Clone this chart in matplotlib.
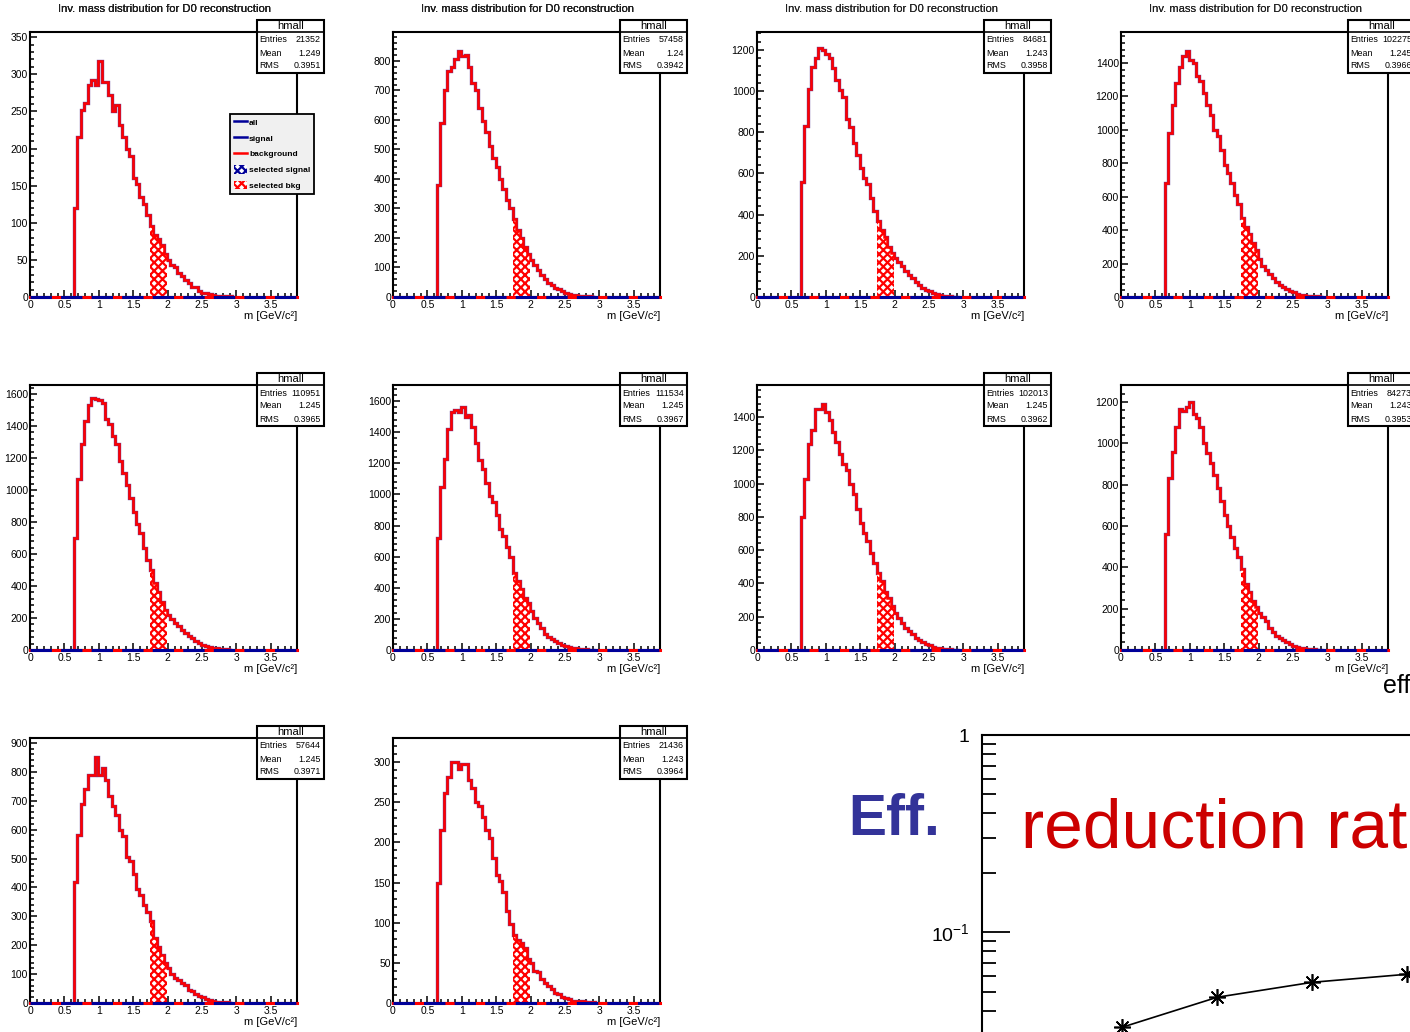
import numpy as np
import matplotlib
matplotlib.use("Agg")
import matplotlib.pyplot as plt
from matplotlib.ticker import MultipleLocator, AutoMinorLocator, FuncFormatter, LogLocator, NullFormatter, NullLocator
from matplotlib.patches import Rectangle, Patch
from matplotlib.lines import Line2D

plt.rcParams['font.family'] = ['Liberation Sans', 'DejaVu Sans']
plt.rcParams['mathtext.fontset'] = 'custom'
plt.rcParams['mathtext.rm'] = 'Liberation Sans'
plt.rcParams['mathtext.it'] = 'Liberation Sans:italic'
plt.rcParams['mathtext.bf'] = 'Liberation Sans:bold'
plt.rcParams['hatch.linewidth'] = 1.6

# ---------------- data ----------------
title = "Inv. mass distribution for D0 reconstruction"
hist_name = "hmall"
bin_lo = 0.64          # lower edge of first filled bin [GeV/c^2]
bin_w = 0.05           # bin width
sel_lo, sel_hi = 1.74, 1.99   # selected mass window

entries = [21352, 57458, 84681, 102275, 110951, 111534, 102013, 84273, 57644, 21436]
means = [1.249, 1.24, 1.243, 1.245, 1.245, 1.245, 1.245, 1.243, 1.245, 1.243]
rms = [0.3951, 0.3942, 0.3958, 0.3966, 0.3965, 0.3967, 0.3962, 0.3953, 0.3971, 0.3964]
y_top = [357, 898, 1287, 1585, 1656, 1703, 1592, 1282, 917, 330]
y_major = [50, 100, 200, 200, 200, 200, 200, 200, 100, 50]

bkg_p1 = [120, 215, 252, 262, 285, 292, 285, 318, 290, 290, 272, 250, 258, 232, 215, 200, 190, 160, 152, 135,
          125, 110, 96, 84, 78, 70, 58, 50, 43, 41, 33, 28, 23, 19, 14, 13, 8, 6, 5, 4, 3, 2, 2, 1, 1, 1]
bkg_p2 = [380, 590, 700, 765, 780, 805, 835, 815, 820, 780, 725, 700, 640, 595, 560, 510, 470, 440, 400, 365,
          330, 300, 266, 228, 200, 168, 145, 125, 108, 90, 74, 62, 48, 40, 32, 26, 20, 15, 11, 8, 6, 4, 3, 2, 2, 1]
bkg_p3 = [560, 830, 1010, 1115, 1160, 1210, 1200, 1180, 1160, 1110, 1055, 1005, 970, 865, 825, 750, 690, 625, 580, 550,
          480, 420, 370, 325, 290, 245, 215, 190, 172, 150, 128, 107, 90, 72, 58, 46, 36, 28, 20, 14, 10, 7, 5, 3, 2, 2]
bkg_p4 = [680, 980, 1150, 1280, 1375, 1440, 1470, 1420, 1400, 1320, 1290, 1220, 1150, 1090, 1000, 960, 880, 790, 740, 680,
          610, 555, 470, 420, 375, 320, 280, 225, 185, 160, 135, 115, 92, 72, 58, 46, 36, 27, 20, 14, 10, 8, 6, 4, 3, 2]
bkg_p5 = [700, 1070, 1290, 1430, 1530, 1575, 1570, 1565, 1545, 1445, 1415, 1340, 1290, 1180, 1105, 1030, 950, 860, 790, 730,
          640, 565, 500, 420, 360, 297, 252, 220, 192, 170, 150, 127, 108, 88, 74, 58, 45, 33, 24, 18, 14, 10, 7, 5, 4, 3]
bkg_p6 = [720, 1050, 1230, 1420, 1530, 1540, 1530, 1560, 1500, 1510, 1430, 1330, 1220, 1160, 1070, 990, 950, 870, 780, 730,
          660, 600, 495, 445, 390, 336, 300, 250, 205, 175, 140, 105, 82, 68, 55, 45, 32, 25, 18, 14, 10, 7, 5, 4, 3, 2]
bkg_p7 = [800, 1030, 1240, 1320, 1450, 1445, 1480, 1430, 1380, 1310, 1250, 1180, 1115, 1080, 1000, 935, 850, 765, 705, 655,
          585, 520, 462, 412, 350, 312, 265, 222, 192, 165, 135, 112, 95, 75, 60, 48, 36, 28, 20, 14, 10, 7, 5, 4, 3, 2]
bkg_p8 = [560, 830, 960, 1080, 1165, 1155, 1175, 1200, 1140, 1120, 1080, 1000, 955, 905, 845, 785, 720, 653, 600, 545,
          495, 450, 390, 320, 280, 235, 210, 180, 160, 138, 108, 88, 70, 60, 48, 38, 28, 20, 15, 11, 8, 6, 4, 3, 2, 1]
bkg_p9 = [420, 580, 688, 740, 790, 790, 850, 790, 812, 770, 715, 680, 650, 600, 578, 505, 490, 446, 395, 372,
          338, 315, 285, 225, 195, 165, 140, 120, 99, 88, 78, 70, 62, 46, 40, 32, 24, 20, 14, 10, 7, 5, 4, 3, 2, 1]
bkg_p10 = [150, 215, 261, 282, 300, 300, 292, 298, 298, 278, 268, 250, 245, 232, 215, 205, 180, 160, 152, 138,
           115, 98, 85, 78, 75, 68, 55, 50, 40, 38, 30, 25, 21, 17, 13, 11, 8, 6, 5, 3, 3, 2, 2, 1, 1, 1]
panels = [bkg_p1, bkg_p2, bkg_p3, bkg_p4, bkg_p5, bkg_p6, bkg_p7, bkg_p8, bkg_p9, bkg_p10]

eff_x = [1, 2, 3, 4]
eff_y = [0.0330, 0.0468, 0.0557, 0.0612]

# ---------------- layout ----------------
W, H = 1410, 1032
fig = plt.figure(figsize=(W / 100, H / 100), dpi=100)
fig.patch.set_facecolor('white')


def fx(x):
    return x / W


def fy(y):
    return 1 - y / H


RED = '#ff0000'
NAVY = '#000099'
col_left = [30, 393, 757, 1121]
row_top = [32, 385, 738]
ax_w, ax_h = 267, 265
fmt_g = FuncFormatter(lambda v, p: f"{v:g}")

for i, vals in enumerate(panels):
    r, c = divmod(i, 4)
    L, T = col_left[c], row_top[r]
    ax = fig.add_axes([fx(L), fy(T + ax_h), ax_w / W, ax_h / H])
    vals = np.asarray(vals, dtype=float)
    edges = bin_lo + bin_w * np.arange(len(vals) + 1)

    ax.axhline(0, color=RED, lw=2.2, zorder=4, clip_on=False)
    ax.stairs(vals, edges, baseline=0, color='#5a3c9a', lw=2.4, zorder=3)
    ax.stairs(vals, edges, baseline=0, color=RED, lw=1.8, zorder=3.2)
    sel = (edges[:-1] >= sel_lo - 1e-9) & (edges[1:] <= sel_hi + 1e-9)
    idx = np.where(sel)[0]
    ax.stairs(vals[idx], edges[idx[0]:idx[-1] + 2], baseline=0, fill=True,
              facecolor='white', edgecolor=RED, hatch='xxxx', lw=0, zorder=3.1)
    ax.axhline(0, color=NAVY, lw=2.2, zorder=4.1, clip_on=False, dashes=(7, 3))

    ax.set_xlim(0, 3.88)
    ax.set_ylim(0, y_top[i])
    ax.xaxis.set_major_locator(MultipleLocator(0.5))
    ax.xaxis.set_minor_locator(MultipleLocator(0.1))
    ax.yaxis.set_major_locator(MultipleLocator(y_major[i]))
    ax.yaxis.set_minor_locator(AutoMinorLocator(5))
    ax.xaxis.set_major_formatter(fmt_g)
    ax.yaxis.set_major_formatter(fmt_g)
    ax.tick_params(which='both', direction='in', top=False, right=False,
                   labelsize=7.5, width=1.1, colors='black')
    ax.tick_params(which='major', length=5)
    ax.tick_params(which='minor', length=3)
    ax.tick_params(axis='x', pad=2)
    ax.tick_params(axis='y', pad=1.5)
    for s in ax.spines.values():
        s.set_linewidth(1.5)

    # title and axis label
    fig.text(fx(L + ax_w / 2 + 1), fy(9.5), title, ha='center', va='center', fontsize=8.1,
             color='#202020')
    fig.text(fx(L + ax_w), fy(T + ax_h + 19), 'm [GeV/c²]', ha='right', va='center', fontsize=8)

    # stat box
    bl, br = L + ax_w - 40, L + ax_w + 27
    bt, bb = T - 12, T + 41
    fig.add_artist(Rectangle((fx(bl), fy(bb)), (br - bl) / W, (bb - bt) / H,
                             transform=fig.transFigure, facecolor='white',
                             edgecolor='black', lw=1.5, zorder=5))
    fig.add_artist(Line2D([fx(bl), fx(br)], [fy(T), fy(T)], transform=fig.transFigure,
                          color='black', lw=1.2, zorder=5.1))
    fig.text(fx((bl + br) / 2), fy(T - 6), hist_name, ha='center', va='center', fontsize=8, zorder=6)
    rows = [("Entries", f"{entries[i]}"), ("Mean", f"{means[i]:.4g}"), ("RMS", f"{rms[i]:.4g}")]
    for k, (lab, val) in enumerate(rows):
        yy = fy(T + 8 + 13 * k)
        fig.text(fx(bl + 2.5), yy, lab, ha='left', va='center', fontsize=6.4, zorder=6)
        fig.text(fx(br - 3), yy, val, ha='right', va='center', fontsize=6.4, zorder=6)

    if i == 0:
        handles = [Line2D([], [], color=NAVY, lw=1.8),
                   Line2D([], [], color=NAVY, lw=1.8),
                   Line2D([], [], color=RED, lw=1.8),
                   Patch(facecolor='white', edgecolor=NAVY, hatch='xxxx', lw=0),
                   Patch(facecolor='white', edgecolor=RED, hatch='xxxx', lw=0)]
        labels = ['all', 'signal', 'background', 'selected signal', 'selected bkg']
        leg = fig.legend(handles, labels, loc='upper left', bbox_to_anchor=(fx(230), fy(114)),
                         frameon=True, fancybox=False, edgecolor='black', facecolor='#f0f0f0',
                         framealpha=1, prop={'size': 6, 'weight': 'bold'}, handlelength=1.6,
                         handleheight=1.2, handletextpad=0.25, borderpad=0.45, labelspacing=0.8,
                         borderaxespad=0)
        leg.get_frame().set_linewidth(1.3)
        leg.set_zorder(6)

# ---------------- efficiency panel (partially visible) ----------------
ex_l, ex_t, ex_r, ex_b = 982, 735, 1600, 1070
axe = fig.add_axes([fx(ex_l), fy(ex_b), (ex_r - ex_l) / W, (ex_b - ex_t) / H])
axe.set_yscale('log')
axe.plot(eff_x, eff_y, color='black', lw=1.2, marker=(8, 2, 0), ms=12, mew=1.2, clip_on=False)
axe.set_ylim(0.02, 1)
axe.set_xlim(-0.48, 6.03)
axe.yaxis.set_major_locator(LogLocator(base=10))
axe.yaxis.set_minor_locator(LogLocator(base=10, subs=np.arange(2, 10)))
axe.yaxis.set_minor_formatter(NullFormatter())
axe.yaxis.set_major_formatter(FuncFormatter(
    lambda v, p: '1' if abs(v - 1) < 1e-9 else r'$\mathregular{10^{%d}}$' % round(np.log10(v))))
axe.xaxis.set_major_locator(NullLocator())
axe.xaxis.set_minor_locator(NullLocator())
axe.tick_params(which='both', direction='in', right=False, top=False, width=1.3, labelsize=14)
axe.tick_params(which='major', length=20, pad=9)
axe.tick_params(which='minor', length=10)
for s in axe.spines.values():
    s.set_linewidth(1.5)

fig.text(fx(1383), fy(693), 'efficiency', fontsize=18, va='baseline', ha='left')
fig.text(fx(848), fy(835), 'Eff.', color='#333399', fontsize=41, weight='bold', ha='left', va='baseline')
fig.text(fx(1021), fy(848), 'reduction rate', color='#cc0000', fontsize=50, ha='left', va='baseline')

fig.savefig('out.png', dpi=100)
